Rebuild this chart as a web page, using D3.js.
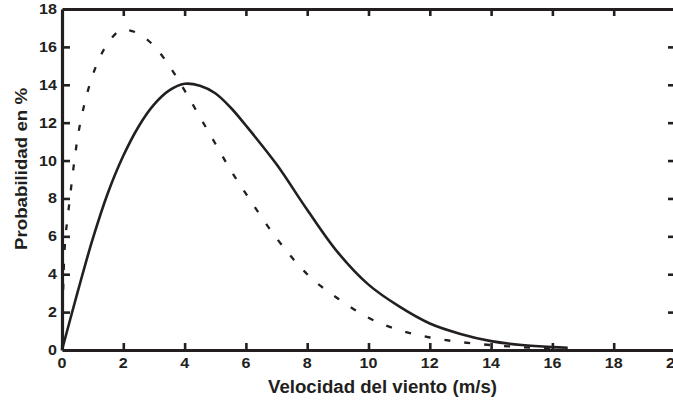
<!DOCTYPE html>
<html>
<head>
<meta charset="utf-8">
<script src="https://cdn.jsdelivr.net/npm/d3@7"></script>
<style>
  body { margin: 0; background: #fff; }
  text { font-family: "Liberation Sans", Arial, sans-serif; font-weight: bold; fill: #231f20; }
</style>
</head>
<body>
<div id="chart"></div>
<script>
// chart values
var xTicks = [0, 2, 4, 6, 8, 10, 12, 14, 16, 18, 20];
var yTicks = [0, 2, 4, 6, 8, 10, 12, 14, 16, 18];

// solid curve
var solidV = [0, 0.5, 1, 1.5, 2, 2.5, 3, 3.5, 4, 4.5, 5, 5.5, 6, 7, 8, 9, 10, 11, 12, 13, 14, 15, 16, 16.5];
var solidP = [0, 3.0, 5.85, 8.3, 10.25, 11.8, 12.95, 13.7, 14.05, 13.95, 13.55, 12.8, 11.85, 9.8, 7.4, 5.15, 3.45, 2.3, 1.4, 0.85, 0.47, 0.26, 0.15, 0.12];

// dashed curve
var dashV = [0, 0.02, 0.04, 0.07, 0.1, 0.17, 0.25, 0.35, 0.5, 0.75, 1, 1.25, 1.5, 2, 2.5, 3, 3.5, 4, 4.5, 5, 5.5, 6, 7, 8, 9, 10, 11, 12, 13, 14, 15, 16];
var dashP = [0, 1.5, 3.3, 4.8, 5.7, 6.8, 7.9, 9.3, 11.1, 13.1, 14.5, 15.5, 16.2, 16.9, 16.7, 16.05, 15.0, 13.7, 12.3, 10.9, 9.5, 8.25, 5.9, 4.0, 2.72, 1.7, 1.05, 0.66, 0.42, 0.26, 0.15, 0.08];

var w = 673, h = 400;
var ink = "#231f20";

var svg = d3.select("#chart").append("svg")
    .attr("width", w)
    .attr("height", h);

var x = d3.scaleLinear().domain([0, 20]).range([62, 675]);
var y = d3.scaleLinear().domain([0, 18]).range([350, 9]);

// curves
var dashLine = d3.line()
    .x(function (d) { return x(d[0]); })
    .y(function (d) { return y(d[1]); })
    .curve(d3.curveMonotoneX);

var solidLine = d3.line()
    .x(function (d) { return x(d[0]); })
    .y(function (d) { return y(d[1]); })
    .curve(d3.curveCatmullRom.alpha(0.5));

svg.append("path")
    .datum(dashV.map(function (v, i) { return [v, dashP[i]]; }))
    .attr("d", dashLine)
    .attr("fill", "none")
    .attr("stroke", ink)
    .attr("stroke-width", 2.3)
    .attr("stroke-dasharray", "6,14");

svg.append("path")
    .datum(solidV.map(function (v, i) { return [v, solidP[i]]; }))
    .attr("d", solidLine)
    .attr("fill", "none")
    .attr("stroke", ink)
    .attr("stroke-width", 2.6);

// axes: ticks point inward on all four sides
var inner = xTicks.filter(function (d) { return d > 0; });
var innerY = yTicks.filter(function (d) { return d > 0 && d < 18; });

var axBottom = svg.append("g").attr("transform", "translate(0," + y(0) + ")")
    .call(d3.axisBottom(x).tickValues(inner).tickSizeInner(-7).tickSizeOuter(0).tickFormat(""));
var axTop = svg.append("g").attr("transform", "translate(0," + y(18) + ")")
    .call(d3.axisTop(x).tickValues(inner).tickSizeInner(-7).tickSizeOuter(0).tickFormat(""));
var axLeft = svg.append("g").attr("transform", "translate(" + x(0) + ",0)")
    .call(d3.axisLeft(y).tickValues(innerY).tickSizeInner(-8).tickSizeOuter(0).tickFormat(""));
var axRight = svg.append("g").attr("transform", "translate(" + x(20) + ",0)")
    .call(d3.axisRight(y).tickValues(innerY).tickSizeInner(-7).tickSizeOuter(0).tickFormat(""));

[axBottom, axTop, axLeft, axRight].forEach(function (g) {
    g.select(".domain").attr("stroke", ink).attr("stroke-width", 3.2);
    g.selectAll(".tick line").attr("stroke", ink).attr("stroke-width", 2.6);
});

// tick labels (glyphs in the original are a bit wide)
svg.append("g").selectAll("text")
    .data(xTicks)
    .enter().append("text")
    .attr("transform", function (d) { return "translate(" + x(d) + ",368) scale(1.15,1)"; })
    .attr("text-anchor", "middle")
    .style("font-size", "14px")
    .text(function (d) { return d; });

svg.append("g").selectAll("text")
    .data(yTicks)
    .enter().append("text")
    .attr("transform", function (d) { return "translate(57," + (y(d) + 5) + ") scale(1.15,1)"; })
    .attr("text-anchor", "end")
    .style("font-size", "14px")
    .text(function (d) { return d; });

// axis titles
svg.append("text")
    .attr("x", 268)
    .attr("y", 393)
    .attr("textLength", 229)
    .attr("lengthAdjust", "spacingAndGlyphs")
    .style("font-size", "18px")
    .text("Velocidad del viento (m/s)");

svg.append("text")
    .attr("transform", "translate(27,250) rotate(-90)")
    .attr("textLength", 162)
    .attr("lengthAdjust", "spacingAndGlyphs")
    .style("font-size", "17px")
    .text("Probabilidad en %");
</script>
</body>
</html>
